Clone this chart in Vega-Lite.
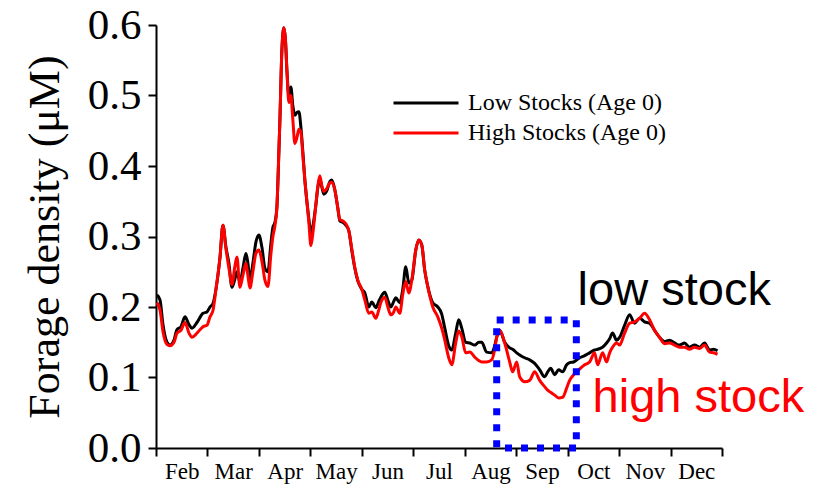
{
  "$schema": "https://vega.github.io/schema/vega-lite/v6.json",
  "width": 566,
  "height": 423,
  "autosize": {"type": "none"},
  "padding": {"left": 156, "top": 25, "right": 101, "bottom": 38},
  "background": "white",
  "config": {
    "view": {"stroke": null},
    "axis": {
      "grid": false,
      "domainColor": "black",
      "tickColor": "black",
      "labelColor": "black",
      "titleColor": "black",
      "domainWidth": 2,
      "tickWidth": 2
    }
  },
  "datasets": {
    "forage": [
      {"t": 2.019, "low": 0.217, "high": 0.206},
      {"t": 2.078, "low": 0.210, "high": 0.196},
      {"t": 2.136, "low": 0.175, "high": 0.165},
      {"t": 2.214, "low": 0.150, "high": 0.147},
      {"t": 2.272, "low": 0.146, "high": 0.145},
      {"t": 2.350, "low": 0.153, "high": 0.150},
      {"t": 2.408, "low": 0.168, "high": 0.163},
      {"t": 2.485, "low": 0.172, "high": 0.167},
      {"t": 2.563, "low": 0.186, "high": 0.178},
      {"t": 2.641, "low": 0.175, "high": 0.163},
      {"t": 2.699, "low": 0.170, "high": 0.157},
      {"t": 2.796, "low": 0.178, "high": 0.163},
      {"t": 2.913, "low": 0.191, "high": 0.172},
      {"t": 2.990, "low": 0.193, "high": 0.174},
      {"t": 3.049, "low": 0.200, "high": 0.186},
      {"t": 3.107, "low": 0.205, "high": 0.195},
      {"t": 3.165, "low": 0.225, "high": 0.225},
      {"t": 3.243, "low": 0.270, "high": 0.270},
      {"t": 3.301, "low": 0.316, "high": 0.316},
      {"t": 3.359, "low": 0.285, "high": 0.283},
      {"t": 3.417, "low": 0.262, "high": 0.255},
      {"t": 3.476, "low": 0.228, "high": 0.232},
      {"t": 3.534, "low": 0.240, "high": 0.258},
      {"t": 3.573, "low": 0.250, "high": 0.271},
      {"t": 3.631, "low": 0.235, "high": 0.228},
      {"t": 3.689, "low": 0.255, "high": 0.245},
      {"t": 3.748, "low": 0.276, "high": 0.262},
      {"t": 3.786, "low": 0.262, "high": 0.245},
      {"t": 3.825, "low": 0.238, "high": 0.227},
      {"t": 3.883, "low": 0.262, "high": 0.250},
      {"t": 3.942, "low": 0.292, "high": 0.276},
      {"t": 4.000, "low": 0.302, "high": 0.281},
      {"t": 4.058, "low": 0.285, "high": 0.265},
      {"t": 4.117, "low": 0.255, "high": 0.238},
      {"t": 4.175, "low": 0.250, "high": 0.229},
      {"t": 4.233, "low": 0.290, "high": 0.275},
      {"t": 4.272, "low": 0.313, "high": 0.300},
      {"t": 4.311, "low": 0.320, "high": 0.315},
      {"t": 4.350, "low": 0.342, "high": 0.342},
      {"t": 4.388, "low": 0.420, "high": 0.420},
      {"t": 4.408, "low": 0.465, "high": 0.465},
      {"t": 4.447, "low": 0.565, "high": 0.565},
      {"t": 4.485, "low": 0.596, "high": 0.596},
      {"t": 4.515, "low": 0.580, "high": 0.580},
      {"t": 4.544, "low": 0.536, "high": 0.536},
      {"t": 4.583, "low": 0.500, "high": 0.490},
      {"t": 4.621, "low": 0.512, "high": 0.500},
      {"t": 4.660, "low": 0.485, "high": 0.465},
      {"t": 4.699, "low": 0.472, "high": 0.432},
      {"t": 4.738, "low": 0.476, "high": 0.440},
      {"t": 4.777, "low": 0.477, "high": 0.452},
      {"t": 4.816, "low": 0.455, "high": 0.448},
      {"t": 4.854, "low": 0.420, "high": 0.415},
      {"t": 4.893, "low": 0.380, "high": 0.380},
      {"t": 4.932, "low": 0.350, "high": 0.350},
      {"t": 4.971, "low": 0.325, "high": 0.320},
      {"t": 5.010, "low": 0.305, "high": 0.287},
      {"t": 5.049, "low": 0.315, "high": 0.305},
      {"t": 5.107, "low": 0.345, "high": 0.345},
      {"t": 5.146, "low": 0.370, "high": 0.372},
      {"t": 5.184, "low": 0.382, "high": 0.386},
      {"t": 5.223, "low": 0.370, "high": 0.372},
      {"t": 5.262, "low": 0.360, "high": 0.364},
      {"t": 5.320, "low": 0.365, "high": 0.368},
      {"t": 5.379, "low": 0.378, "high": 0.376},
      {"t": 5.417, "low": 0.380, "high": 0.377},
      {"t": 5.476, "low": 0.366, "high": 0.366},
      {"t": 5.534, "low": 0.340, "high": 0.340},
      {"t": 5.573, "low": 0.322, "high": 0.324},
      {"t": 5.631, "low": 0.320, "high": 0.322},
      {"t": 5.689, "low": 0.316, "high": 0.318},
      {"t": 5.748, "low": 0.308, "high": 0.308},
      {"t": 5.806, "low": 0.280, "high": 0.282},
      {"t": 5.864, "low": 0.255, "high": 0.256},
      {"t": 5.922, "low": 0.237, "high": 0.238},
      {"t": 6.000, "low": 0.225, "high": 0.225},
      {"t": 6.058, "low": 0.220, "high": 0.210},
      {"t": 6.136, "low": 0.200, "high": 0.191},
      {"t": 6.194, "low": 0.207, "high": 0.193},
      {"t": 6.272, "low": 0.199, "high": 0.184},
      {"t": 6.330, "low": 0.208, "high": 0.196},
      {"t": 6.369, "low": 0.214, "high": 0.206},
      {"t": 6.447, "low": 0.221, "high": 0.214},
      {"t": 6.505, "low": 0.210, "high": 0.200},
      {"t": 6.563, "low": 0.200, "high": 0.189},
      {"t": 6.621, "low": 0.208, "high": 0.193},
      {"t": 6.660, "low": 0.213, "high": 0.200},
      {"t": 6.738, "low": 0.206, "high": 0.191},
      {"t": 6.796, "low": 0.225, "high": 0.218},
      {"t": 6.854, "low": 0.257, "high": 0.236},
      {"t": 6.913, "low": 0.234, "high": 0.220},
      {"t": 6.971, "low": 0.238, "high": 0.238},
      {"t": 7.049, "low": 0.281, "high": 0.281},
      {"t": 7.107, "low": 0.295, "high": 0.295},
      {"t": 7.165, "low": 0.288, "high": 0.288},
      {"t": 7.223, "low": 0.252, "high": 0.252},
      {"t": 7.282, "low": 0.229, "high": 0.229},
      {"t": 7.379, "low": 0.206, "high": 0.200},
      {"t": 7.476, "low": 0.200, "high": 0.186},
      {"t": 7.553, "low": 0.190, "high": 0.170},
      {"t": 7.612, "low": 0.170, "high": 0.153},
      {"t": 7.689, "low": 0.145, "high": 0.128},
      {"t": 7.748, "low": 0.139, "high": 0.118},
      {"t": 7.825, "low": 0.163, "high": 0.149},
      {"t": 7.883, "low": 0.182, "high": 0.166},
      {"t": 7.942, "low": 0.170, "high": 0.158},
      {"t": 8.019, "low": 0.150, "high": 0.135},
      {"t": 8.097, "low": 0.149, "high": 0.136},
      {"t": 8.194, "low": 0.146, "high": 0.129},
      {"t": 8.272, "low": 0.150, "high": 0.124},
      {"t": 8.330, "low": 0.150, "high": 0.122},
      {"t": 8.427, "low": 0.136, "high": 0.122},
      {"t": 8.524, "low": 0.135, "high": 0.125},
      {"t": 8.583, "low": 0.145, "high": 0.140},
      {"t": 8.621, "low": 0.157, "high": 0.157},
      {"t": 8.680, "low": 0.167, "high": 0.167},
      {"t": 8.777, "low": 0.150, "high": 0.149},
      {"t": 8.874, "low": 0.142, "high": 0.122},
      {"t": 8.932, "low": 0.140, "high": 0.108},
      {"t": 9.010, "low": 0.135, "high": 0.122},
      {"t": 9.068, "low": 0.132, "high": 0.101},
      {"t": 9.165, "low": 0.128, "high": 0.094},
      {"t": 9.262, "low": 0.125, "high": 0.096},
      {"t": 9.359, "low": 0.120, "high": 0.108},
      {"t": 9.456, "low": 0.111, "high": 0.096},
      {"t": 9.553, "low": 0.101, "high": 0.087},
      {"t": 9.612, "low": 0.108, "high": 0.082},
      {"t": 9.670, "low": 0.113, "high": 0.079},
      {"t": 9.748, "low": 0.104, "high": 0.075},
      {"t": 9.825, "low": 0.111, "high": 0.071},
      {"t": 9.903, "low": 0.108, "high": 0.072},
      {"t": 9.981, "low": 0.118, "high": 0.085},
      {"t": 10.039, "low": 0.121, "high": 0.096},
      {"t": 10.117, "low": 0.122, "high": 0.104},
      {"t": 10.233, "low": 0.128, "high": 0.112},
      {"t": 10.330, "low": 0.131, "high": 0.118},
      {"t": 10.427, "low": 0.135, "high": 0.122},
      {"t": 10.524, "low": 0.139, "high": 0.135},
      {"t": 10.583, "low": 0.140, "high": 0.118},
      {"t": 10.680, "low": 0.143, "high": 0.135},
      {"t": 10.757, "low": 0.149, "high": 0.122},
      {"t": 10.816, "low": 0.155, "high": 0.135},
      {"t": 10.874, "low": 0.163, "high": 0.143},
      {"t": 10.951, "low": 0.153, "high": 0.149},
      {"t": 11.010, "low": 0.157, "high": 0.146},
      {"t": 11.107, "low": 0.174, "high": 0.163},
      {"t": 11.204, "low": 0.189, "high": 0.177},
      {"t": 11.301, "low": 0.177, "high": 0.179},
      {"t": 11.398, "low": 0.184, "high": 0.184},
      {"t": 11.495, "low": 0.179, "high": 0.191},
      {"t": 11.592, "low": 0.177, "high": 0.182},
      {"t": 11.689, "low": 0.167, "high": 0.167},
      {"t": 11.786, "low": 0.157, "high": 0.157},
      {"t": 11.883, "low": 0.151, "high": 0.148},
      {"t": 11.981, "low": 0.153, "high": 0.149},
      {"t": 12.078, "low": 0.149, "high": 0.146},
      {"t": 12.175, "low": 0.146, "high": 0.143},
      {"t": 12.272, "low": 0.149, "high": 0.143},
      {"t": 12.369, "low": 0.143, "high": 0.140},
      {"t": 12.466, "low": 0.146, "high": 0.143},
      {"t": 12.563, "low": 0.143, "high": 0.141},
      {"t": 12.660, "low": 0.149, "high": 0.146},
      {"t": 12.757, "low": 0.139, "high": 0.136},
      {"t": 12.835, "low": 0.140, "high": 0.135},
      {"t": 12.913, "low": 0.138, "high": 0.133}
    ]
  },
  "layer": [
    {
      "data": {"name": "forage"},
      "mark": {"type": "line", "strokeWidth": 3, "interpolate": "monotone"},
      "encoding": {
        "x": {
          "field": "t",
          "type": "quantitative",
          "scale": {"domain": [2, 13], "nice": false, "zero": false},
          "axis": {
            "values": [2, 3, 4, 5, 6, 7, 8, 9, 10, 11, 12, 13],
            "labelExpr": "['', '', 'Feb', 'Mar', 'Apr', 'May', 'Jun', 'Jul', 'Aug', 'Sep', 'Oct', 'Nov', 'Dec', ''][datum.value]",
            "labelOffset": 25.75,
            "labelFont": "Liberation Serif",
            "labelFontSize": 23,
            "labelPadding": 4,
            "labelOverlap": false,
            "labelFlush": false,
            "tickSize": 8,
            "title": null
          }
        },
        "y": {
          "field": "low",
          "type": "quantitative",
          "scale": {"domain": [0, 0.6], "nice": false},
          "axis": {
            "values": [0, 0.05, 0.1, 0.15, 0.2, 0.25, 0.3, 0.35, 0.4, 0.45, 0.5, 0.55, 0.6],
            "labelExpr": "round(datum.value * 100) % 10 == 0 ? format(datum.value, '.1f') : ''",
            "labelOverlap": false,
            "labelFont": "Liberation Serif",
            "labelFontSize": 43,
            "labelPadding": 7,
            "tickSize": {
              "condition": {"test": "round(datum.value * 100) % 10 != 0", "value": 5},
              "value": 8
            },
            "title": "Forage density (μM)",
            "titleFont": "Liberation Serif",
            "titleFontSize": 44,
            "titleFontWeight": "normal",
            "titlePadding": 20
          }
        },
        "color": {
          "datum": "Low Stocks (Age 0)",
          "type": "nominal",
          "scale": {
            "domain": ["Low Stocks (Age 0)", "High Stocks (Age 0)"],
            "range": ["#000000", "#ff0000"]
          },
          "legend": {
            "orient": "none",
            "legendX": 258,
            "legendY": 66,
            "title": null,
            "padding": 0,
            "symbolType": "M-5,0H5",
            "symbolSize": 169,
            "symbolStrokeWidth": 3,
            "labelFont": "Liberation Serif",
            "labelFontSize": 24,
            "labelLimit": 400,
            "labelOffset": 30,
            "rowPadding": 6
          }
        }
      }
    },
    {
      "data": {"name": "forage"},
      "mark": {"type": "line", "strokeWidth": 3, "interpolate": "monotone"},
      "encoding": {
        "x": {"field": "t", "type": "quantitative"},
        "y": {"field": "high", "type": "quantitative"},
        "color": {"datum": "High Stocks (Age 0)", "type": "nominal"}
      }
    },
    {
      "data": {"values": [{"t0": 8.621, "t1": 10.169, "v0": 0, "v1": 0.1816}]},
      "mark": {
        "type": "rect",
        "fillOpacity": 0,
        "stroke": "#0000ff",
        "strokeWidth": 7,
        "strokeDash": [7, 9]
      },
      "encoding": {
        "x": {"field": "t0", "type": "quantitative"},
        "x2": {"field": "t1"},
        "y": {"field": "v0", "type": "quantitative"},
        "y2": {"field": "v1"}
      }
    },
    {
      "data": {"values": [{"t": 10.194, "v": 0.203, "label": "low stock"}]},
      "mark": {
        "type": "text",
        "font": "Liberation Sans",
        "fontSize": 47,
        "align": "left",
        "baseline": "alphabetic",
        "color": "#000000"
      },
      "encoding": {
        "x": {"field": "t", "type": "quantitative"},
        "y": {"field": "v", "type": "quantitative"},
        "text": {"field": "label"}
      }
    },
    {
      "data": {"values": [{"t": 10.485, "v": 0.051, "label": "high stock"}]},
      "mark": {
        "type": "text",
        "font": "Liberation Sans",
        "fontSize": 47,
        "align": "left",
        "baseline": "alphabetic",
        "color": "#ff0000"
      },
      "encoding": {
        "x": {"field": "t", "type": "quantitative"},
        "y": {"field": "v", "type": "quantitative"},
        "text": {"field": "label"}
      }
    }
  ]
}
